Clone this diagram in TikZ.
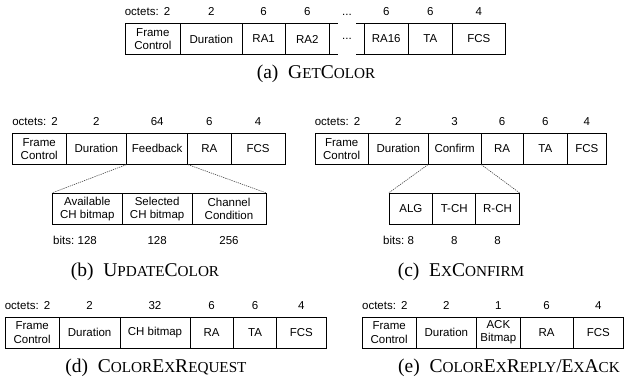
\documentclass[tikz,border=0pt]{standalone}
\usepackage{fontspec}
\setmainfont{Liberation Serif}
\setsansfont{Liberation Sans}
\newcommand\capsm[1]{{\fontsize{15.2}{17}\selectfont #1}}
% one field of a frame: name, left, right, top, bottom, text
\newcommand\fcell[6]{\node[cell, minimum width={#3pt-#2pt}, minimum height={#5pt-#4pt}] (#1) at ({(#2+#3)/2},{(#4+#5)/2}) {#6};}
% a size label centred above a field
\newcommand\sizelabel[2]{\node[num, anchor=base] at ([yshift=7.5pt]#1.north) {#2};}
% a size label in bits centred below a sub-field
\newcommand\bitlabel[3]{\node[num, anchor=base] (#1) at ([yshift=-20pt]#2.south) {#3};}
\begin{document}
\begin{tikzpicture}[x=1pt, y=-1pt,
  cell/.style={draw, line width=0.7pt, inner sep=0pt, align=center,
    font=\sffamily\fontsize{11.5}{13.3}\selectfont},
  num/.style={inner sep=0pt, font=\sffamily\fontsize{11.5}{13.3}\selectfont},
  captext/.style={inner sep=0pt, font=\fontsize{19.5}{22}\selectfont},
  zoomline/.style={line width=0.6pt, dash pattern=on 1.2pt off 1pt, draw=black!75}]
\useasboundingbox (0,0) rectangle (624,385);

% (a) GetColor
\fcell{afc}{125}{180.7}{23.5}{54.5}{Frame\\Control}
\fcell{adur}{180.7}{242}{23.5}{54.5}{Duration}
\fcell{ara1}{242}{285.3}{23.5}{54.5}{RA1}
\fcell{ara2}{285.3}{329.3}{23.5}{54.5}{RA2}
\node[cell, draw=none, minimum width=35pt, minimum height=31pt] (adots) at (346.9,39) {...};
\fcell{ara16}{364.5}{408}{23.5}{54.5}{RA16}
\fcell{ata}{408}{452.5}{23.5}{54.5}{TA}
\fcell{afcs}{452.5}{505}{23.5}{54.5}{FCS}
\draw[line width=0.7pt] (adots.north west) -- ++(9,0) (adots.south west) -- ++(9,0)
  (adots.north east) -- ++(-9,0) (adots.south east) -- ++(-9,0);
\node[num, anchor=base west] at ([yshift=7.5pt]afc.north west) {octets:\hspace{0.45em}2};
\sizelabel{adur}{2}\sizelabel{ara1}{6}\sizelabel{ara2}{6}\sizelabel{adots}{...}
\sizelabel{ara16}{6}\sizelabel{ata}{6}\sizelabel{afcs}{4}
\node[captext, anchor=base] (capa) at (316,78.5) {(a)\ \ G\capsm{ET}C\capsm{OLOR}};

% (b) UpdateColor
\fcell{bfc}{12.5}{66}{133.3}{164.3}{Frame\\Control}
\fcell{bdur}{66}{126.7}{133.3}{164.3}{Duration}
\fcell{bfb}{126.7}{187.7}{133.3}{164.3}{Feedback}
\fcell{bra}{187.7}{231}{133.3}{164.3}{RA}
\fcell{bfcs}{231}{285}{133.3}{164.3}{FCS}
\node[num, anchor=base west] at ([yshift=7.5pt]bfc.north west) {octets:\hspace{0.45em}2};
\sizelabel{bdur}{2}\sizelabel{bfb}{64}\sizelabel{bra}{6}\sizelabel{bfcs}{4}
\fcell{bav}{52.3}{122.3}{193.3}{224.3}{Available\\CH bitmap}
\fcell{bsel}{122.3}{192}{193.3}{224.3}{Selected\\CH bitmap}
\fcell{bch}{192}{266}{193.3}{224.3}{Channel\\Condition}
\draw[zoomline] (bfb.south west) -- (bav.north west);
\draw[zoomline] (bfb.south east) -- (bch.north east);
\bitlabel{bbav}{bav}{128}\bitlabel{bbsel}{bsel}{128}\bitlabel{bbch}{bch}{256}
\node[num, anchor=base east] at ([xshift=-3pt]bbav.base west) {bits:};
\node[captext, anchor=base] (capb) at (145,276) {(b)\ \ U\capsm{PDATE}C\capsm{OLOR}};

% (c) ExConfirm
\fcell{cfc}{315}{368.3}{133.3}{164.3}{Frame\\Control}
\fcell{cdur}{368.3}{428.3}{133.3}{164.3}{Duration}
\fcell{ccf}{428.3}{481}{133.3}{164.3}{Confirm}
\fcell{cra}{481}{523.3}{133.3}{164.3}{RA}
\fcell{cta}{523.3}{567.3}{133.3}{164.3}{TA}
\fcell{cfcs}{567.3}{606.5}{133.3}{164.3}{FCS}
\node[num, anchor=base west] at ([yshift=7.5pt]cfc.north west) {octets:\hspace{0.45em}2};
\sizelabel{cdur}{2}\sizelabel{ccf}{3}\sizelabel{cra}{6}\sizelabel{cta}{6}\sizelabel{cfcs}{4}
\fcell{calg}{389}{432.7}{193.3}{224.3}{ALG}
\fcell{ctch}{432.7}{475.7}{193.3}{224.3}{T-CH}
\fcell{crch}{475.7}{519.3}{193.3}{224.3}{R-CH}
\draw[zoomline] (ccf.south west) -- (calg.north west);
\draw[zoomline] (ccf.south east) -- (crch.north east);
\bitlabel{cbalg}{calg}{8}\bitlabel{cbtch}{ctch}{8}\bitlabel{cbrch}{crch}{8}
\node[num, anchor=base east] at ([xshift=-3pt]cbalg.base west) {bits:};
\node[captext, anchor=base] (capc) at (461,276) {(c)\ \ E\capsm{X}C\capsm{ONFIRM}};

% (d) ColorExRequest
\fcell{dfc}{5}{59.3}{317}{348}{Frame\\Control}
\fcell{ddur}{59.3}{120}{317}{348}{Duration}
\fcell{dchb}{120}{190}{317}{348}{CH bitmap}
\fcell{dra}{190}{233.3}{317}{348}{RA}
\fcell{dta}{233.3}{276.7}{317}{348}{TA}
\fcell{dfcs}{276.7}{326}{317}{348}{FCS}
\node[num, anchor=base west] at ([yshift=7.5pt]dfc.north west) {octets:\hspace{0.45em}2};
\sizelabel{ddur}{2}\sizelabel{dchb}{32}\sizelabel{dra}{6}\sizelabel{dta}{6}\sizelabel{dfcs}{4}
\node[captext, anchor=base] (capd) at (156,372) {(d)\ \ C\capsm{OLOR}E\capsm{X}R\capsm{EQUEST}};

% (e) ColorExReply / ExAck
\fcell{efc}{362.3}{416}{317}{348}{Frame\\Control}
\fcell{edur}{416}{476.7}{317}{348}{Duration}
\fcell{eack}{476.7}{520}{317}{348}{ACK\\Bitmap}
\fcell{era}{520}{573.3}{317}{348}{RA}
\fcell{efcs}{573.3}{623.5}{317}{348}{FCS}
\node[num, anchor=base west] at ([yshift=7.5pt]efc.north west) {octets:\hspace{0.45em}2};
\sizelabel{edur}{2}\sizelabel{eack}{1}\sizelabel{era}{6}\sizelabel{efcs}{4}
\node[captext, anchor=base] (cape) at (509,372) {(e)\ \ C\capsm{OLOR}E\capsm{X}R\capsm{EPLY}/E\capsm{X}A\capsm{CK}};
\end{tikzpicture}
\end{document}
